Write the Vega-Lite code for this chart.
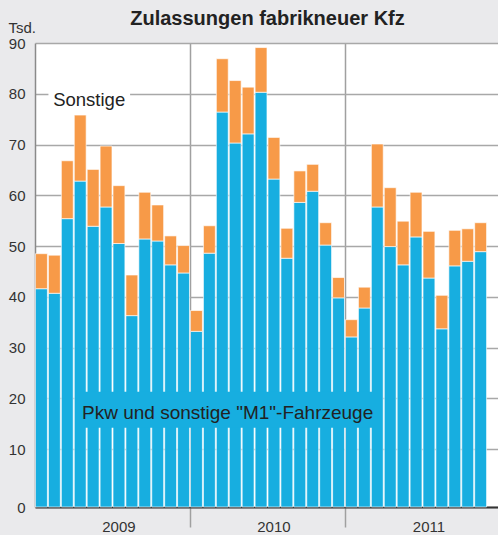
{
  "$schema": "https://vega.github.io/schema/vega-lite/v6.json",
  "autosize": "none",
  "width": 465,
  "height": 464,
  "padding": {"left": 35, "top": 43, "right": 0, "bottom": 28},
  "background": "#eaeaec",
  "config": {
    "font": "Liberation Sans",
    "view": {"stroke": null, "fill": "white"}
  },
  "title": {
    "text": "Zulassungen fabrikneuer Kfz",
    "fontSize": 20,
    "fontWeight": "bold",
    "color": "#222222",
    "anchor": "middle",
    "baseline": "alphabetic",
    "offset": -25
  },
  "datasets": {
    "kfz": [
      {"month": "2009-01", "total": 48.5, "pkw": 41.6},
      {"month": "2009-02", "total": 48.2, "pkw": 40.7},
      {"month": "2009-03", "total": 66.8, "pkw": 55.4},
      {"month": "2009-04", "total": 75.8, "pkw": 62.8},
      {"month": "2009-05", "total": 65.1, "pkw": 53.9},
      {"month": "2009-06", "total": 69.7, "pkw": 57.7},
      {"month": "2009-07", "total": 61.9, "pkw": 50.5},
      {"month": "2009-08", "total": 44.3, "pkw": 36.3},
      {"month": "2009-09", "total": 60.6, "pkw": 51.4},
      {"month": "2009-10", "total": 58.1, "pkw": 51.0},
      {"month": "2009-11", "total": 52.0, "pkw": 46.3},
      {"month": "2009-12", "total": 50.1, "pkw": 44.7},
      {"month": "2010-01", "total": 37.3, "pkw": 33.2},
      {"month": "2010-02", "total": 54.0, "pkw": 48.6},
      {"month": "2010-03", "total": 86.9, "pkw": 76.4},
      {"month": "2010-04", "total": 82.6, "pkw": 70.3},
      {"month": "2010-05", "total": 81.3, "pkw": 72.1},
      {"month": "2010-06", "total": 89.1, "pkw": 80.3},
      {"month": "2010-07", "total": 71.4, "pkw": 63.2},
      {"month": "2010-08", "total": 53.5, "pkw": 47.6},
      {"month": "2010-09", "total": 64.8, "pkw": 58.6},
      {"month": "2010-10", "total": 66.1, "pkw": 60.8},
      {"month": "2010-11", "total": 54.6, "pkw": 50.2},
      {"month": "2010-12", "total": 43.8, "pkw": 39.8},
      {"month": "2011-01", "total": 35.5, "pkw": 32.1},
      {"month": "2011-02", "total": 41.9, "pkw": 37.8},
      {"month": "2011-03", "total": 70.1, "pkw": 57.7},
      {"month": "2011-04", "total": 61.5, "pkw": 49.9},
      {"month": "2011-05", "total": 54.9, "pkw": 46.3},
      {"month": "2011-06", "total": 60.6, "pkw": 51.8},
      {"month": "2011-07", "total": 52.9, "pkw": 43.7},
      {"month": "2011-08", "total": 40.3, "pkw": 33.7},
      {"month": "2011-09", "total": 53.1, "pkw": 46.1},
      {"month": "2011-10", "total": 53.4, "pkw": 47.0},
      {"month": "2011-11", "total": 54.6, "pkw": 48.9}
    ]
  },
  "data": {"name": "kfz"},
  "encoding": {
    "x": {
      "field": "month",
      "type": "ordinal",
      "scale": {
        "domain": ["2009-01","2009-02","2009-03","2009-04","2009-05","2009-06","2009-07","2009-08","2009-09","2009-10","2009-11","2009-12",
                   "2010-01","2010-02","2010-03","2010-04","2010-05","2010-06","2010-07","2010-08","2010-09","2010-10","2010-11","2010-12",
                   "2011-01","2011-02","2011-03","2011-04","2011-05","2011-06","2011-07","2011-08","2011-09","2011-10","2011-11","2011-12"],
        "paddingInner": 0.08,
        "paddingOuter": 0.04
      },
      "axis": {
        "title": null,
        "values": ["2009-07","2010-01","2010-07","2011-01","2011-07"],
        "bandPosition": 0,
        "labelExpr": "substring(datum.value,5,7)=='07' ? substring(datum.value,0,4) : ''",
        "labelAngle": 0,
        "labelFontSize": 15,
        "labelColor": "#333333",
        "labelPadding": -8,
        "ticks": true,
        "tickSize": 20,
        "tickColor": "#a0a0a0",
        "tickWidth": 1.5,
        "tickOpacity": {"condition": {"test": "substring(datum.value,5,7)=='01'", "value": 1}, "value": 0},
        "grid": true,
        "gridColor": "#a0a0a0",
        "gridWidth": 1.5,
        "gridOpacity": {"condition": {"test": "substring(datum.value,5,7)=='01'", "value": 1}, "value": 0},
        "domainColor": "#333333",
        "domainWidth": 2
      }
    }
  },
  "layer": [
    {
      "mark": {"type": "bar", "color": "#17aee0", "stroke": "#ffffff", "strokeWidth": 0.8, "strokeOpacity": 0.8},
      "encoding": {
        "y": {
          "field": "pkw",
          "type": "quantitative",
          "scale": {"domain": [-1.4, 90], "nice": false, "zero": false},
          "axis": {
            "values": [-1.4, 10, 20, 30, 40, 50, 60, 70, 80, 90],
            "labelExpr": "datum.value < 0 ? '0' : datum.label",
            "labelFontSize": 15,
            "labelColor": "#333333",
            "labelPadding": 10,
            "ticks": false,
            "grid": true,
            "gridColor": "#a8a8a8",
            "gridWidth": 1.5,
            "domainColor": "#8a8a8a",
            "domainWidth": 1.5,
            "title": "Tsd.",
            "titleAngle": 0,
            "titleAlign": "left",
            "titleBaseline": "alphabetic",
            "titleX": -27,
            "titleY": -11,
            "titleFontSize": 15,
            "titleFontWeight": "normal",
            "titleColor": "#333333"
          }
        },
        "y2": {"datum": -1.4}
      }
    },
    {
      "mark": {"type": "bar", "color": "#f79a48", "stroke": "#ffffff", "strokeWidth": 0.8, "strokeOpacity": 0.8},
      "encoding": {
        "y": {"field": "total", "type": "quantitative"},
        "y2": {"field": "pkw"}
      }
    },
    {
      "data": {"values": [{"label": "Sonstige"}]},
      "mark": {"type": "rect", "color": "#ffffff"},
      "encoding": {
        "x": {"datum": "2009-02", "bandPosition": 0},
        "x2": {"datum": "2009-08", "bandPosition": 0.35},
        "y": {"datum": 81.5},
        "y2": {"datum": 76.4}
      }
    },
    {
      "data": {"values": [{"label": "Sonstige"}]},
      "mark": {"type": "text", "fontSize": 18.5, "color": "#222222", "align": "center", "baseline": "alphabetic"},
      "encoding": {
        "x": {"datum": "2009-05", "bandPosition": 0.17},
        "y": {"datum": 77.6},
        "text": {"field": "label"}
      }
    },
    {
      "data": {"values": [{"label": "Pkw und sonstige \"M1\"-Fahrzeuge"}]},
      "mark": {"type": "rect", "color": "#17aee0"},
      "encoding": {
        "x": {"datum": "2009-04", "bandPosition": 0.48},
        "x2": {"datum": "2011-03", "bandPosition": 0.3},
        "y": {"datum": 21.3},
        "y2": {"datum": 14.2}
      }
    },
    {
      "data": {"values": [{"label": "Pkw und sonstige \"M1\"-Fahrzeuge"}]},
      "mark": {"type": "text", "fontSize": 19, "color": "#222222", "align": "center", "baseline": "alphabetic"},
      "encoding": {
        "x": {"datum": "2010-03", "bandPosition": 0.95},
        "y": {"datum": 15.9},
        "text": {"field": "label"}
      }
    }
  ]
}
